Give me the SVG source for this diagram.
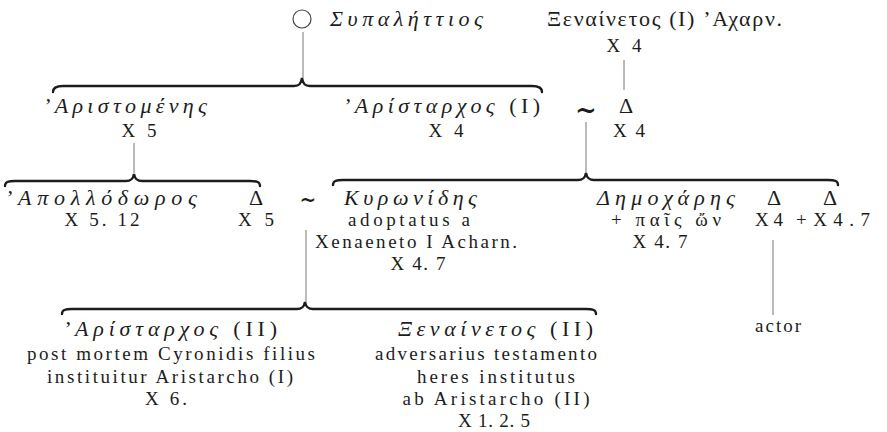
<svg xmlns="http://www.w3.org/2000/svg" width="887" height="432" viewBox="0 0 887 432">
<style>
text{font-family:"Liberation Serif","DejaVu Serif",serif;fill:#1c1c1c}
.g{font-size:22px;font-style:italic}
.gn{font-size:22px}
.l{font-size:19px}
.up{font-style:normal}
.tl{font-family:"DejaVu Serif",serif;font-weight:bold}
.br{fill:none;stroke:#1c1c1c;stroke-width:2.4;stroke-linecap:round}
.v{fill:none;stroke:#777;stroke-width:1}
</style>
<rect width="887" height="432" fill="#fff"/>
<g id="connectors">
<path class="br" d="M53,92 C53,88 56,86 63,86 L294,86 C299,86 301,84 302,78 C303,84 305,86 310,86 L532,86 C539,86 542,88 542,92"/>
<path class="br" d="M5,186 C5,182 8,181 15,181 L126,181 C131,181 133,179 134,174 C135,179 137,181 142,181 L250,181 C257,181 260,182 260,186"/>
<path class="br" d="M333,185 C333,181 336,180 343,180 L578,180 C583,180 585,178 586,173 C587,178 589,180 594,180 L828,180 C835,180 838,181 838,185"/>
<path class="br" d="M62,314 C62,310 65,309 72,309 L297,309 C302,309 304,307 305,302 C306,307 308,309 313,309 L586,309 C593,309 596,310 596,314"/>
<line class="v" x1="303" y1="32" x2="303" y2="78"/>
<line class="v" x1="624" y1="60" x2="624" y2="90"/>
<line class="v" x1="134" y1="143" x2="134" y2="173"/>
<line class="v" x1="586" y1="122" x2="586" y2="173"/>
<line class="v" x1="306" y1="230" x2="306" y2="302"/>
<line class="v" x1="773" y1="240" x2="773" y2="315"/>
<text class="tl" x="586" y="119" font-size="26" text-anchor="middle">~</text>
<text class="tl" x="308" y="207" font-size="20" text-anchor="middle">~</text>
</g>
<g id="sypalettios">
<circle cx="302" cy="19" r="9" fill="none" stroke="#444" stroke-width="1.2"/>
<text class="g" x="330" y="26" textLength="153" lengthAdjust="spacing">Συπαλήττιος</text>
</g>
<g id="xenainetos1">
<text class="gn" x="547" y="26" textLength="235" lengthAdjust="spacing">Ξεναίνετος (I) ’Αχαρν.</text>
<text class="l" x="624" y="52" text-anchor="middle" textLength="35" lengthAdjust="spacing">X 4</text>
</g>
<g id="aristomenes">
<text class="g" x="43" y="113" textLength="164" lengthAdjust="spacing">’Αριστομένης</text>
<text class="l" x="139" y="137" text-anchor="middle" textLength="35" lengthAdjust="spacing">X 5</text>
</g>
<g id="aristarchos1">
<text class="g" x="343" y="113" textLength="197" lengthAdjust="spacing">’Αρίσταρχος <tspan class="up">(I)</tspan></text>
<text class="l" x="446" y="137" text-anchor="middle" textLength="35" lengthAdjust="spacing">X 4</text>
</g>
<g id="daughter-xen">
<text class="gn" x="626" y="113" text-anchor="middle">Δ</text>
<text class="l" x="629" y="137" text-anchor="middle" textLength="32" lengthAdjust="spacing">X 4</text>
</g>
<g id="apollodoros">
<text class="g" x="5" y="205" textLength="192" lengthAdjust="spacing">’Απολλόδωρος</text>
<text class="l" x="102" y="226" text-anchor="middle" textLength="75" lengthAdjust="spacing">X 5. 12</text>
</g>
<g id="daughter-arist">
<text class="gn" x="256" y="205" text-anchor="middle">Δ</text>
<text class="l" x="256" y="226" text-anchor="middle" textLength="36" lengthAdjust="spacing">X 5</text>
</g>
<g id="kyronides">
<text class="g" x="344" y="205" textLength="133" lengthAdjust="spacing">Κυρωνίδης</text>
<text class="l" x="409" y="226" text-anchor="middle" textLength="122" lengthAdjust="spacing">adoptatus a</text>
<text class="l" x="416" y="248" text-anchor="middle" textLength="202" lengthAdjust="spacing">Xenaeneto I Acharn.</text>
<text class="l" x="418" y="270" text-anchor="middle" textLength="55" lengthAdjust="spacing">X 4. 7</text>
</g>
<g id="demochares">
<text class="g" x="666" y="205" text-anchor="middle" textLength="138" lengthAdjust="spacing">Δημοχάρης</text>
<text class="l" x="666" y="226" text-anchor="middle" textLength="110" lengthAdjust="spacing">+ παῖς ὤν</text>
<text class="l" x="660" y="248" text-anchor="middle" textLength="55" lengthAdjust="spacing">X 4. 7</text>
</g>
<g id="daughter2">
<text class="gn" x="774" y="205" text-anchor="middle">Δ</text>
<text class="l" x="769" y="226" text-anchor="middle" textLength="28" lengthAdjust="spacing">X4</text>
</g>
<g id="daughter3">
<text class="gn" x="830" y="205" text-anchor="middle">Δ</text>
<text class="l" x="833" y="226" text-anchor="middle" textLength="74" lengthAdjust="spacing">+X4.7</text>
</g>
<g id="aristarchos2">
<text class="g" x="63" y="336" textLength="214" lengthAdjust="spacing">’Αρίσταρχος <tspan class="up">(II)</tspan></text>
<text class="l" x="171" y="360" text-anchor="middle" textLength="288" lengthAdjust="spacing">post mortem Cyronidis filius</text>
<text class="l" x="170" y="383" text-anchor="middle" textLength="246" lengthAdjust="spacing">instituitur Aristarcho (I)</text>
<text class="l" x="166" y="405" text-anchor="middle" textLength="42" lengthAdjust="spacing">X 6.</text>
</g>
<g id="xenainetos2">
<text class="g" x="398" y="336" textLength="195" lengthAdjust="spacing">Ξεναίνετος <tspan class="up">(II)</tspan></text>
<text class="l" x="486" y="360" text-anchor="middle" textLength="222" lengthAdjust="spacing">adversarius testamento</text>
<text class="l" x="496" y="383" text-anchor="middle" textLength="158" lengthAdjust="spacing">heres institutus</text>
<text class="l" x="496" y="405" text-anchor="middle" textLength="187" lengthAdjust="spacing">ab Aristarcho (II)</text>
<text class="l" x="494" y="427" text-anchor="middle" textLength="72" lengthAdjust="spacing">X 1. 2. 5</text>
</g>
<g id="actor">
<text class="l" x="778" y="332" text-anchor="middle" font-size="20" textLength="46" lengthAdjust="spacing">actor</text>
</g>
</svg>
